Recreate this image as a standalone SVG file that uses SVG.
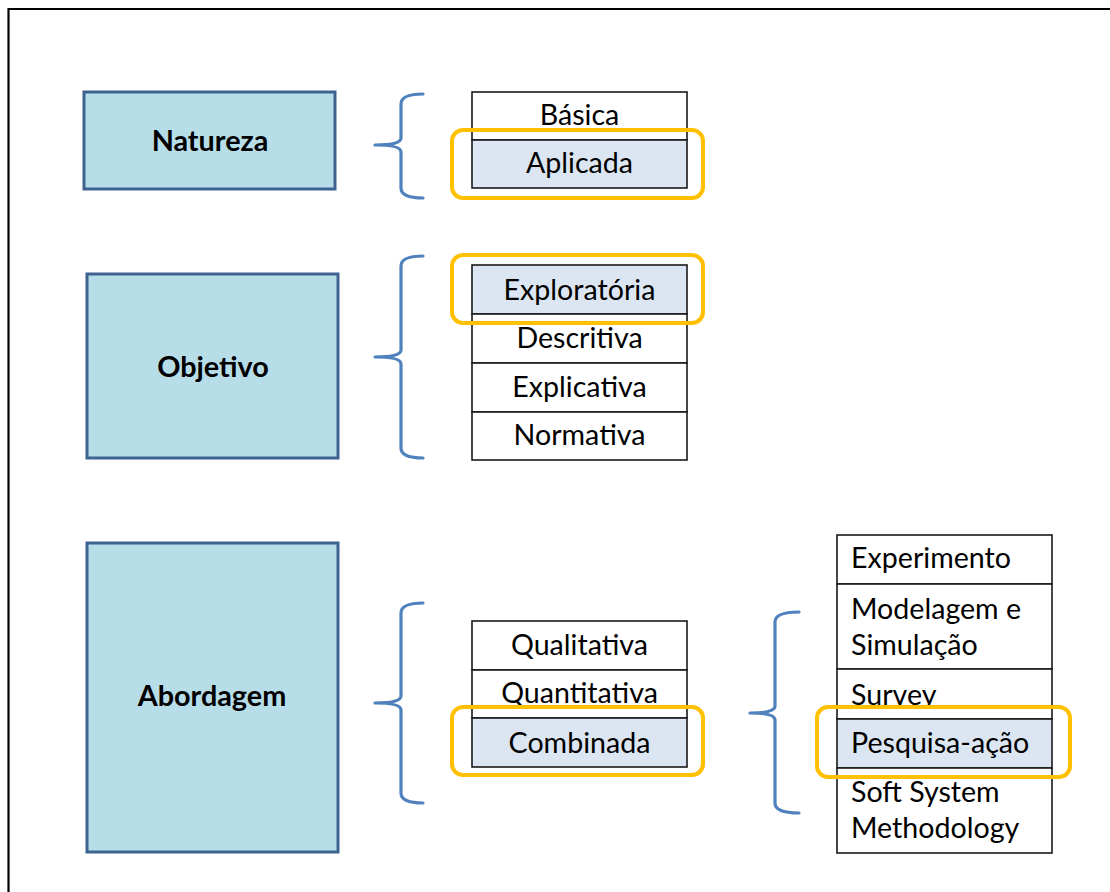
<svg xmlns="http://www.w3.org/2000/svg" width="1110" height="892" viewBox="0 0 1110 892">
  <style>
    .cat { fill: #b7dde8; stroke: #3f6391; stroke-width: 3; }
    .catlabel { font-family: Lato, "Liberation Sans", sans-serif; font-weight: bold; font-size: 28.8px; fill: #000; text-anchor: middle; }
    .cell { fill: #ffffff; stroke: #1a1a1a; stroke-width: 1.6; }
    .cell.sel { fill: #dce6f2; }
    .opt { font-family: Lato, "Liberation Sans", sans-serif; font-size: 28.6px; fill: #000; }
    .mid { text-anchor: middle; }
    .mark { fill: none; stroke: #ffc000; stroke-width: 4; }
    .brace { fill: none; stroke: #4f81bd; stroke-width: 3.2; stroke-linecap: round; stroke-linejoin: round; }
  </style>
  <defs>
    <clipPath id="clipQuant"><rect x="472" y="670" width="215" height="35"/></clipPath>
    <clipPath id="clipSurvey"><rect x="837" y="669" width="215" height="36"/></clipPath>
  </defs>

  <rect width="1110" height="892" fill="#ffffff"/>
  <!-- page frame -->
  <path d="M8.5,892 V9 H1110" fill="none" stroke="#000" stroke-width="2.2"/>

  <!-- category boxes -->
  <g id="natureza">
    <rect class="cat" x="84" y="92" width="251" height="97"/>
    <text class="catlabel" x="210" y="151">Natureza</text>
  </g>
  <g id="objetivo">
    <rect class="cat" x="87" y="274" width="251" height="184"/>
    <text class="catlabel" x="213" y="377">Objetivo</text>
  </g>
  <g id="abordagem">
    <rect class="cat" x="87" y="543" width="251" height="309"/>
    <text class="catlabel" x="212" y="706">Abordagem</text>
  </g>

  <!-- option tables -->
  <g id="natureza-options">
    <rect class="cell" x="472" y="92" width="215" height="48"/>
    <rect class="cell sel" x="472" y="140" width="215" height="48"/>
    <text class="opt mid" x="579.5" y="125">Básica</text>
    <text class="opt mid" x="579.5" y="173">Aplicada</text>
  </g>
  <g id="objetivo-options">
    <rect class="cell sel" x="472" y="265" width="215" height="49"/>
    <rect class="cell" x="472" y="314" width="215" height="49"/>
    <rect class="cell" x="472" y="363" width="215" height="49"/>
    <rect class="cell" x="472" y="412" width="215" height="48"/>
    <text class="opt mid" x="579.5" y="300">Exploratória</text>
    <text class="opt mid" x="579.5" y="348">Descritiva</text>
    <text class="opt mid" x="579.5" y="397">Explicativa</text>
    <text class="opt mid" x="579.5" y="445">Normativa</text>
  </g>
  <g id="abordagem-options">
    <rect class="cell" x="472" y="621" width="215" height="49"/>
    <rect class="cell" x="472" y="670" width="215" height="48"/>
    <rect class="cell sel" x="472" y="718" width="215" height="49"/>
    <text class="opt mid" x="579.5" y="655">Qualitativa</text>
    <text class="opt mid" x="579.5" y="703" clip-path="url(#clipQuant)">Quantitativa</text>
    <text class="opt mid" x="579.5" y="753">Combinada</text>
  </g>
  <g id="metodos">
    <rect class="cell" x="837" y="535" width="215" height="49"/>
    <rect class="cell" x="837" y="584" width="215" height="85"/>
    <rect class="cell" x="837" y="669" width="215" height="50"/>
    <rect class="cell sel" x="837" y="719" width="215" height="49"/>
    <rect class="cell" x="837" y="768" width="215" height="85"/>
    <text class="opt" x="851" y="568">Experimento</text>
    <text class="opt" x="851" y="619">Modelagem e</text>
    <text class="opt" x="851" y="655">Simulação</text>
    <text class="opt" x="851" y="705" clip-path="url(#clipSurvey)">Survey</text>
    <text class="opt" x="851" y="753">Pesquisa-ação</text>
    <text class="opt" x="851" y="802">Soft System</text>
    <text class="opt" x="851" y="838">Methodology</text>
  </g>

  <!-- selection highlights -->
  <g id="selecoes">
    <rect class="mark" x="452" y="130" width="251" height="68" rx="11"/>
    <rect class="mark" x="452" y="255" width="251" height="68" rx="11"/>
    <rect class="mark" x="452" y="707" width="251" height="68" rx="11"/>
    <rect class="mark" x="817" y="707" width="253" height="70" rx="11"/>
  </g>

  <!-- braces linking each level to its options -->
  <g id="connectors">
    <path class="brace" d="M423,94 Q401,94 401,104 V138 Q401,145 375,145 Q401,145 401,152 V188 Q401,198 423,198"/>
    <path class="brace" d="M423,256 Q401,256 401,266 V350 Q401,357 375,357 Q401,357 401,364 V448 Q401,458 423,458"/>
    <path class="brace" d="M423,603 Q401,603 401,613 V696 Q401,703 375,703 Q401,703 401,710 V793 Q401,803 423,803"/>
    <path class="brace" d="M799,612 Q775,612 775,622 V706 Q775,713 750,713 Q775,713 775,720 V803 Q775,813 799,813"/>
  </g>
</svg>
